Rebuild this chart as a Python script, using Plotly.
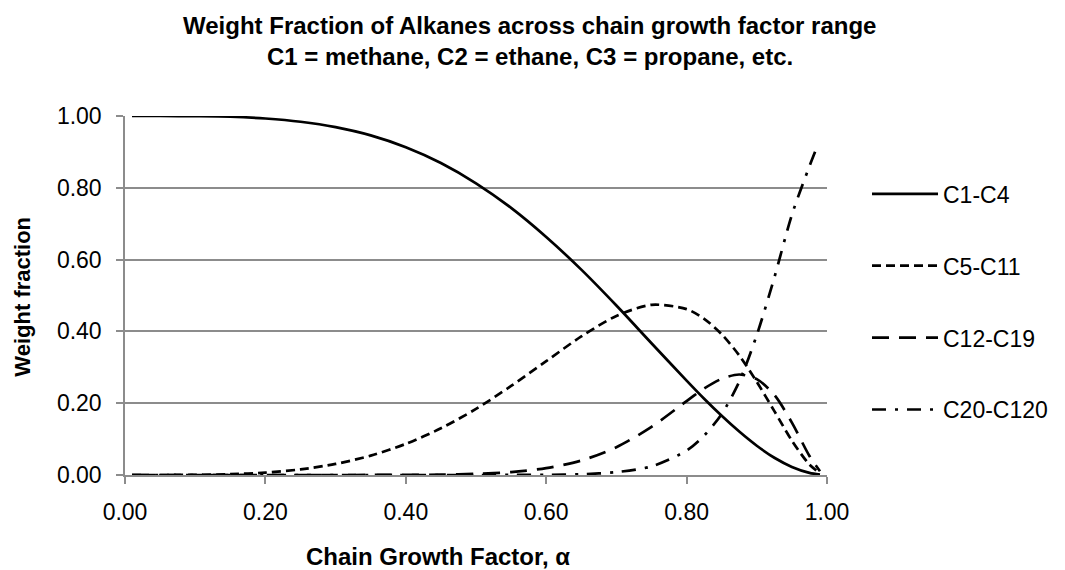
import plotly.graph_objects as go

# Chain growth factor (alpha) sample points
alpha = [0.01, 0.05, 0.10, 0.15, 0.20, 0.25, 0.30, 0.35, 0.40, 0.45, 0.50,
         0.55, 0.60, 0.65, 0.70, 0.75, 0.80, 0.825, 0.85, 0.875, 0.90,
         0.925, 0.95, 0.975, 0.99]

# Weight fractions per carbon-number cut
c1_c4 = [1.000, 1.000, 0.9995, 0.998, 0.993, 0.984, 0.969, 0.946, 0.913, 0.869,
         0.8125, 0.744, 0.663, 0.572, 0.472, 0.367, 0.263, 0.2125, 0.165,
         0.121, 0.0815, 0.048, 0.0226, 0.006, 0.001]
c5_c11 = [0.000, 0.000, 0.0005, 0.0022, 0.0067, 0.0156, 0.0308, 0.0539, 0.0867,
          0.130, 0.184, 0.248, 0.317, 0.386, 0.443, 0.474, 0.462, 0.435,
          0.392, 0.333, 0.2595, 0.178, 0.0957, 0.029, 0.005]
c12_c19 = [0.000, 0.000, 0.000, 0.000, 0.000, 0.000, 0.000, 0.0001, 0.0003,
           0.0011, 0.0032, 0.0082, 0.0191, 0.0403, 0.0774, 0.134, 0.206,
           0.241, 0.268, 0.280, 0.267, 0.223, 0.146, 0.053, 0.0106]

alpha_heavy = [0.01, 0.05, 0.10, 0.15, 0.20, 0.25, 0.30, 0.35, 0.40, 0.45,
               0.50, 0.55, 0.60, 0.65, 0.70, 0.75, 0.80, 0.825, 0.85, 0.875,
               0.90, 0.925, 0.95, 0.975, 0.985]
c20_c120 = [0.000, 0.000, 0.000, 0.000, 0.000, 0.000, 0.000, 0.000, 0.000,
            0.000, 0.000, 0.0001, 0.0005, 0.002, 0.008, 0.024, 0.068, 0.110,
            0.170, 0.260, 0.390, 0.550, 0.725, 0.860, 0.910]

series = [
    ("C1-C4", alpha, c1_c4, "solid"),
    ("C5-C11", alpha, c5_c11, "9px,5px"),
    ("C12-C19", alpha, c12_c19, "17px,10px"),
    ("C20-C120", alpha_heavy, c20_c120, "14px,9px,3px,9px"),
]

title_lines = ["Weight Fraction of Alkanes across chain growth factor range",
               "C1 = methane, C2 = ethane, C3 = propane, etc."]
x_title = "Chain Growth Factor, α"
y_title = "Weight fraction"

FONT = "Liberation Sans, Arial, sans-serif"
GRID = "#8c8c8c"

fig = go.Figure()
for name, xs, ys, dash in series:
    fig.add_trace(go.Scatter(
        x=xs, y=ys, name=name, mode="lines", legendgroup=name,
        line=dict(color="black", width=2.7, dash=dash, shape="spline", smoothing=0.8),
    ))

# Chart title, two centred lines above the plot
for text, ypos in zip(title_lines, [1.251, 1.165]):
    fig.add_annotation(
        text=f"<b>{text}</b>", xref="paper", yref="paper",
        x=0.5764, y=ypos, xanchor="center", yanchor="middle", showarrow=False,
        font=dict(family=FONT, size=24, color="black"),
    )

# Axis titles
fig.add_annotation(
    text=f"<b>{x_title}</b>", xref="paper", yref="paper",
    x=0.4455, y=-0.228, xanchor="center", yanchor="middle", showarrow=False,
    font=dict(family=FONT, size=24, color="black"),
)
fig.add_annotation(
    text=f"<b>{y_title}</b>", xref="paper", yref="paper", textangle=-90,
    x=-0.1457, y=0.496, xanchor="center", yanchor="middle", showarrow=False,
    font=dict(family=FONT, size=22, color="black"),
)

fig.update_layout(
    width=1065, height=570,
    margin=dict(l=125, r=233, t=116, b=95),
    paper_bgcolor="white", plot_bgcolor="white",
    font=dict(family=FONT, color="black", size=23),
    legend=dict(
        x=1.057, xanchor="left", y=0.843, yanchor="top",
        tracegroupgap=39, itemwidth=66,
        font=dict(family=FONT, size=23, color="black"),
        bgcolor="rgba(0,0,0,0)",
    ),
    showlegend=True,
)

fig.update_xaxes(
    range=[0, 1], dtick=0.2, tick0=0, tickformat=".2f",
    showgrid=False, zeroline=False,
    showline=True, linecolor=GRID, linewidth=1.5,
    ticks="outside", ticklen=7, tickcolor=GRID, tickwidth=1.5,
    ticklabelstandoff=9,
)
fig.update_yaxes(
    range=[0, 1], dtick=0.2, tick0=0, tickformat=".2f",
    showgrid=True, gridcolor=GRID, gridwidth=1.5, zeroline=False,
    showline=True, linecolor=GRID, linewidth=1.5,
    ticks="outside", ticklen=7, tickcolor=GRID, tickwidth=1.5,
    ticklabelstandoff=10,
)

fig.write_html("out.html")
